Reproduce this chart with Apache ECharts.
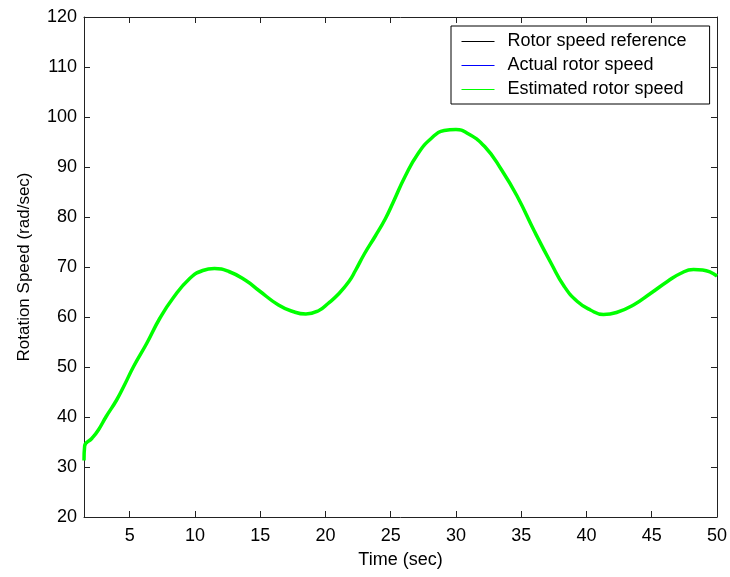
<!DOCTYPE html>
<html>
<head>
<meta charset="utf-8">
<title>Rotor speed</title>
<script src="https://cdn.jsdelivr.net/npm/echarts@6/dist/echarts.min.js"></script>
<style>
    html, body { margin: 0; padding: 0; background: #fff; }
    #chart { width: 730px; height: 577px; }
</style>
</head>
<body>
<div id="chart"></div>
<script>
    // time axis (sec) and speeds (rad/sec)
    var timeSec = [1.5, 1.55, 2.1, 2.6, 3.2, 4.0, 4.6, 5.3, 6.3, 7.3, 8.3, 9.6, 10.6, 11.5, 12.6, 13.9, 14.9,
        16.4, 17.5, 18.5, 19.5, 20.2, 21.0, 21.8, 22.3, 23.0, 23.8, 24.6, 25.2, 26.1, 27.1, 28.1, 29.1, 30.0, 30.9,
        32.2, 33.5, 34.7, 36.0, 37.3, 38.3, 39.3, 40.3, 41.3, 42.3, 43.6, 44.9, 46.2, 47.2, 48.2, 48.9, 50.0];
    var estSpeed = [31.3, 34.2, 35.7, 37.4, 40.1, 43.4, 46.4, 50.1, 54.7, 59.7, 63.7, 67.7, 69.3, 69.7, 69.1, 67.3, 65.3,
        62.4, 61.1, 60.6, 61.3, 62.7, 64.6, 67.1, 69.3, 72.7, 76.1, 79.7, 83.0, 88.1, 92.7, 95.7, 97.3, 97.5, 96.7,
        94.1, 89.4, 84.1, 77.2, 70.7, 66.1, 63.1, 61.4, 60.5, 60.9, 62.4, 64.7, 67.1, 68.7, 69.5, 69.4, 68.2];
    // reference and actual speed lie under the estimate, same shape
    var refSpeed = [null].concat(estSpeed.slice(1));
    var actualSpeed = refSpeed.slice();

    var seriesNames = ['Rotor speed reference', 'Actual rotor speed', 'Estimated rotor speed'];
    var seriesColors = ['#000000', '#0000ff', '#00ff00'];

    function pairs(ys) {
        var out = [];
        for (var i = 0; i < timeSec.length; i++) {
            if (ys[i] != null) out.push([timeSec[i], ys[i]]);
        }
        return out;
    }

    var font = 'Arial, "Liberation Sans", sans-serif';
    var axisCol = '#222';

    var chart = echarts.init(document.getElementById('chart'));
    chart.setOption({
        animation: false,
        textStyle: { fontFamily: font },
        grid: { left: 84, right: 11, top: 17, bottom: 60 },
        legend: {
            left: 451,
            top: 26,
            orient: 'vertical',
            data: seriesNames,
            itemWidth: 33,
            itemHeight: 14,
            itemGap: 6,
            padding: [6.5, 23, 5.5, 10],
            borderColor: '#000',
            borderWidth: 1,
            backgroundColor: '#fff',
            lineStyle: { width: 1, opacity: 1 },
            itemStyle: { color: 'transparent', borderColor: 'transparent', borderWidth: 0 },
            textStyle: { fontFamily: font, fontSize: 18, color: '#000', padding: [0, 0, 0, 8] }
        },
        xAxis: [
            {
                type: 'value',
                min: 1.5,
                max: 50,
                minInterval: 5,
                maxInterval: 5,
                name: 'Time (sec)',
                nameLocation: 'middle',
                nameGap: 34,
                nameTextStyle: { fontFamily: font, fontSize: 18, color: '#000' },
                axisLine: { show: true, lineStyle: { color: axisCol, width: 1 } },
                axisTick: { inside: true, length: 6, lineStyle: { color: axisCol } },
                axisLabel: { showMinLabel: false, margin: 10, fontFamily: font, fontSize: 18, color: '#000' },
                splitLine: { show: false }
            },
            {
                type: 'value',
                position: 'top',
                min: 1.5,
                max: 50,
                minInterval: 5,
                maxInterval: 5,
                axisLine: { show: true, lineStyle: { color: axisCol, width: 1 } },
                axisTick: { inside: true, length: 6, lineStyle: { color: axisCol } },
                axisLabel: { show: false },
                splitLine: { show: false }
            }
        ],
        yAxis: [
            {
                type: 'value',
                min: 20,
                max: 120,
                interval: 10,
                name: 'Rotation Speed (rad/sec)',
                nameLocation: 'middle',
                nameGap: 51,
                nameTextStyle: { fontFamily: font, fontSize: 17, color: '#000' },
                axisLine: { show: true, lineStyle: { color: axisCol, width: 1 } },
                axisTick: { inside: true, length: 6, lineStyle: { color: axisCol } },
                axisLabel: { margin: 7, fontFamily: font, fontSize: 18, color: '#000' },
                splitLine: { show: false }
            },
            {
                type: 'value',
                position: 'right',
                min: 20,
                max: 120,
                interval: 10,
                axisLine: { show: true, lineStyle: { color: axisCol, width: 1 } },
                axisTick: { inside: true, length: 6, lineStyle: { color: axisCol } },
                axisLabel: { show: false },
                splitLine: { show: false }
            }
        ],
        series: [
            {
                name: seriesNames[0],
                type: 'line',
                data: pairs(refSpeed),
                smooth: 0.5,
                symbol: 'none',
                color: seriesColors[0],
                lineStyle: { width: 1, color: seriesColors[0] }
            },
            {
                name: seriesNames[1],
                type: 'line',
                data: pairs(actualSpeed),
                smooth: 0.5,
                symbol: 'none',
                color: seriesColors[1],
                lineStyle: { width: 1, color: seriesColors[1] }
            },
            {
                name: seriesNames[2],
                type: 'line',
                data: pairs(estSpeed),
                smooth: 0.5,
                symbol: 'none',
                color: seriesColors[2],
                lineStyle: { width: 3.5, color: seriesColors[2] }
            }
        ]
    });
</script>
</body>
</html>
